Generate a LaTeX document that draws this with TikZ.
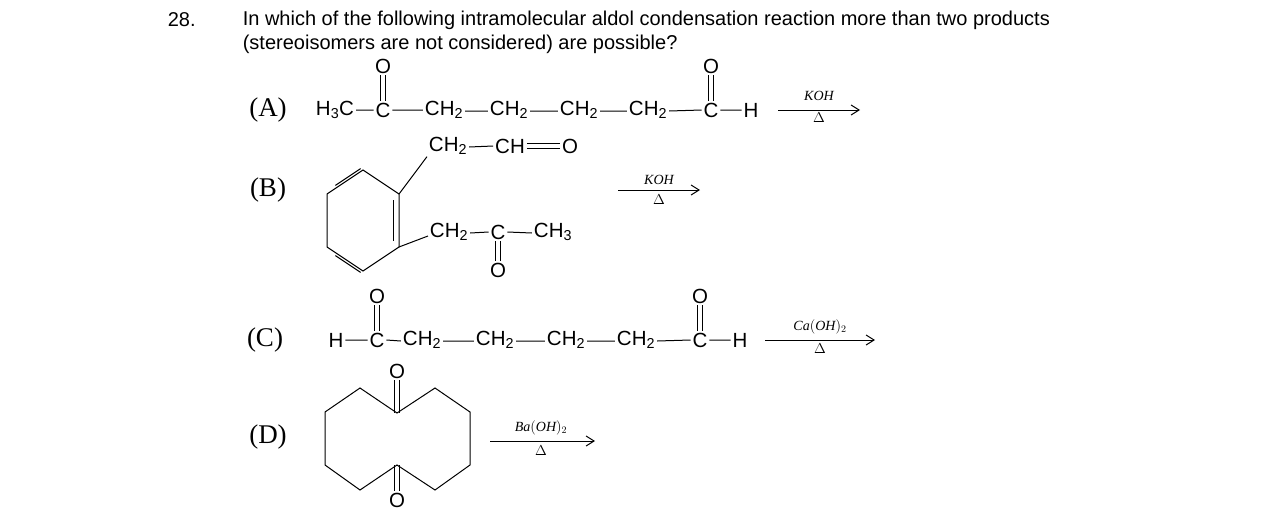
\documentclass[tikz,border=0pt]{standalone}
\usepackage{fontspec}
\setmainfont{Liberation Serif}
\newfontfamily\arialf{Liberation Sans}
\usetikzlibrary{calc,arrows.meta}
\begin{document}
\begin{tikzpicture}[x=1pt,y=-1pt,line width=1pt,
  atm/.style={font=\arialf\fontsize{20.5}{22}\selectfont,inner sep=1.5pt},
  lab/.style={font=\fontsize{27}{29}\selectfont},
  rg/.style={font=\itshape\fontsize{14}{16}\selectfont,inner sep=1pt},
  q/.style={font=\arialf\fontsize{20}{22}\selectfont,anchor=west},
  rx/.style={-{Straight Barb[length=8pt,width=10pt]}}]
\useasboundingbox (0,0) rectangle (1275,531);
\newcommand{\dblv}[2]{\draw ([xshift=-2.5pt]#1.south) -- ([xshift=-2.5pt]#2.north); \draw ([xshift=2.5pt]#1.south) -- ([xshift=2.5pt]#2.north);}
% question
\node[q] (qn) at (164,20) {28.};
\node[q] (q1) at (239,20) {In which of the following intramolecular aldol condensation reaction more than two products};
\node[q] (q2) at (239,44) {(stereoisomers are not considered) are possible?};
% (A)
\node[lab] (la) at (268,110) {(A)};
\node[atm] (a1) at (335,110) {H\textsubscript{3}C};
\node[atm] (a2) at (383,110) {C};
\node[atm] (a3) at (444,110) {CH\textsubscript{2}};
\node[atm] (a4) at (509,110) {CH\textsubscript{2}};
\node[atm] (a5) at (579,110) {CH\textsubscript{2}};
\node[atm] (a6) at (648,110) {CH\textsubscript{2}};
\node[atm] (a7) at (711,110) {C};
\node[atm] (a8) at (751,110) {H};
\node[atm] (ao1) at (383,66) {O};
\node[atm] (ao2) at (711,66) {O};
\draw (a1.east) -- (a2.west) (a2.east) -- (a3.west) ([yshift=-1pt]a3.east) -- ([yshift=-1pt]a4.west)
  ([yshift=-1pt]a4.east) -- ([yshift=-1pt]a5.west) ([yshift=-1pt]a5.east) -- ([yshift=-1pt]a6.west)
  ([yshift=-1pt]a6.east) -- (a7.west) (a7.east) -- (a8.west);
\dblv{ao1}{a2}\dblv{ao2}{a7}
\coordinate (ra1) at (778,110); \coordinate (ra2) at (860,110);
\draw[rx] (ra1) -- (ra2);
\node[rg] (ka) at (819,96) {KOH};
\node[rg] (da) at (819,118) {$\Delta$};
% (B)
\node[lab] (lb) at (268,190) {(B)};
\coordinate (b1) at (363,170); \coordinate (b2) at (399,194); \coordinate (b3) at (399,247);
\coordinate (b4) at (363,271); \coordinate (b5) at (327,247); \coordinate (b6) at (327,194);
\draw (b1) -- (b2) -- (b3) -- (b4) -- (b5) -- (b6) -- cycle;
\draw (393,200) -- (393,241);
\draw ($(b6)!0.15!(b1)+(3,-5)$) -- ($(b6)!0.85!(b1)+(3,-5)$);
\draw ($(b5)!0.15!(b4)+(3,5)$) -- ($(b5)!0.85!(b4)+(3,5)$);
\node[atm] (bc1) at (448,146) {CH\textsubscript{2}};
\node[atm] (bc2) at (510,146) {CH};
\node[atm] (bo1) at (570,146) {O};
\draw (b2) -- (bc1.south west);
\draw ([yshift=-1pt]bc1.east) -- (bc2.west);
\draw ([yshift=-2.5pt]bc2.east) -- ([yshift=-2.5pt]bo1.west);
\draw ([yshift=2.5pt]bc2.east) -- ([yshift=2.5pt]bo1.west);
\node[atm] (bc3) at (449,232) {CH\textsubscript{2}};
\node[atm] (bc4) at (498,232) {C};
\node[atm] (bc5) at (553,232) {CH\textsubscript{3}};
\node[atm] (bo2) at (498,270) {O};
\draw (b3) -- ([yshift=-4pt]bc3.west);
\draw ([yshift=-1pt]bc3.east) -- (bc4.west) (bc4.east) -- ([yshift=-1pt]bc5.west);
\draw ([xshift=-2.5pt]bc4.south) -- ([xshift=-2.5pt]bo2.north);
\draw ([xshift=2.5pt]bc4.south) -- ([xshift=2.5pt]bo2.north);
\coordinate (rb1) at (618,190); \coordinate (rb2) at (700,190);
\draw[rx] (rb1) -- (rb2);
\node[rg] (kb) at (659,180) {KOH};
\node[rg] (db) at (659,200) {$\Delta$};
% (C)
\node[lab] (lc) at (265,340) {(C)};
\node[atm] (c1) at (336,340) {H};
\node[atm] (c2) at (377,340) {C};
\node[atm] (c3) at (422,340) {CH\textsubscript{2}};
\node[atm] (c4) at (495,340) {CH\textsubscript{2}};
\node[atm] (c5) at (566,340) {CH\textsubscript{2}};
\node[atm] (c6) at (636,340) {CH\textsubscript{2}};
\node[atm] (c7) at (700,340) {C};
\node[atm] (c8) at (740,340) {H};
\node[atm] (co1) at (377,296) {O};
\node[atm] (co2) at (700,296) {O};
\draw (c1.east) -- (c2.west) (c2.east) -- ([yshift=-1pt]c3.west) ([yshift=-1pt]c3.east) -- ([yshift=-1pt]c4.west)
  ([yshift=-1pt]c4.east) -- ([yshift=-1pt]c5.west) ([yshift=-1pt]c5.east) -- ([yshift=-1pt]c6.west)
  ([yshift=-1pt]c6.east) -- (c7.west) (c7.east) -- (c8.west);
\dblv{co1}{c2}\dblv{co2}{c7}
\coordinate (rc1) at (765,340); \coordinate (rc2) at (875,340);
\draw[rx] (rc1) -- (rc2);
\node[rg] (kc) at (820,327) {Ca$($OH$)_2$};
\node[rg] (dc) at (820,349) {$\Delta$};
% (D)
\node[lab] (ld) at (268,437) {(D)};
\draw (397,413) -- (360,388) -- (325,412) -- (325,465) -- (360,490) -- (397,465) -- (435,490) -- (470,465) -- (470,412) -- (435,388) -- cycle;
\node[atm] (do1) at (397,371) {O};
\node[atm] (do2) at (397,500) {O};
\coordinate (dt) at (397,413); \coordinate (db2) at (397,465);
\draw ([xshift=-2.5pt]do1.south) -- ([xshift=-2.5pt]dt) ([xshift=2.5pt]do1.south) -- ([xshift=2.5pt]dt);
\draw ([xshift=-2.5pt]do2.north) -- ([xshift=-2.5pt]db2) ([xshift=2.5pt]do2.north) -- ([xshift=2.5pt]db2);
\coordinate (rd1) at (490,441); \coordinate (rd2) at (595,441);
\draw[rx] (rd1) -- (rd2);
\node[rg] (kd) at (541,428) {Ba$($OH$)_2$};
\node[rg] (dd) at (541,451) {$\Delta$};
\end{tikzpicture}
\end{document}
